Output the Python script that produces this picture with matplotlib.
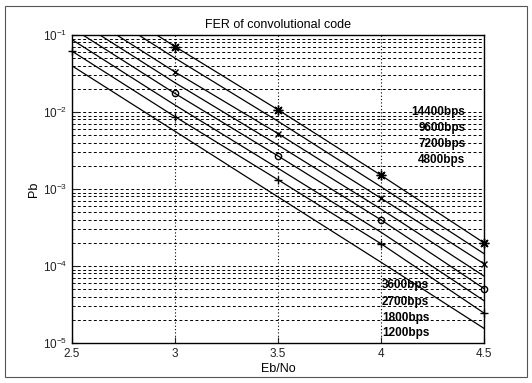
import matplotlib
matplotlib.use("Agg")
import matplotlib.pyplot as plt
from matplotlib.patches import Rectangle

plt.rcParams['font.family'] = ['Liberation Sans', 'DejaVu Sans']

# Eb/No values
ebno = [2.5, 3.0, 3.5, 4.0, 4.5]

# FER curves, one per data rate
fer_14400 = [0.501, 0.0708, 0.0107, 0.00151, 2.0e-4]
fer_9600 = [0.355, 0.0501, 0.00759, 0.00107, 1.45e-4]
fer_7200 = [0.234, 0.0331, 0.00525, 7.6e-4, 1.07e-4]
fer_4800 = [0.170, 0.0240, 0.00372, 5.5e-4, 7.4e-5]
fer_3600 = [0.123, 0.0174, 0.00269, 3.98e-4, 5.1e-5]
fer_2700 = [0.0871, 0.0123, 0.00186, 2.75e-4, 3.55e-5]
fer_1800 = [0.0617, 0.0087, 0.00132, 1.95e-4, 2.45e-5]
fer_1200 = [0.0398, 0.00562, 7.9e-4, 1.12e-4, 1.55e-5]

# rate labels as placed on the chart
top_labels = ["14400bps", "9600bps", "7200bps", "4800bps"]
top_label_y = [1.0e-2, 6.2e-3, 3.84e-3, 2.38e-3]
bottom_labels = ["3600bps", "2700bps", "1800bps", "1200bps"]
bottom_label_y = [5.66e-5, 3.4e-5, 2.11e-5, 1.35e-5]

fig = plt.figure(figsize=(5.32, 3.83), dpi=100)
ax = fig.add_axes([0.1353, 0.1044, 0.7744, 0.8042])
ymin, ymax = 1e-5, 1e-1

# (8, 2, 0) is an asterisk made of line strokes, like MATLAB's '*'
curves = [(fer_14400, (8, 2, 0), 7), (fer_9600, None, 0), (fer_7200, 'x', 5),
          (fer_4800, None, 0), (fer_3600, 'o', 4.5), (fer_2700, None, 0),
          (fer_1800, '+', 6), (fer_1200, None, 0)]
for fer, mk, ms in curves:
    ax.semilogy(ebno, fer, 'k-', lw=0.9)
    if mk:
        # markers are not clipped at the axes edge (MATLAB style)
        pts = [(x, y) for x, y in zip(ebno, fer) if ymin <= y <= ymax]
        ax.plot([p[0] for p in pts], [p[1] for p in pts], ls='none', marker=mk,
                color='k', ms=ms, mew=1.0, mfc='none', clip_on=False, zorder=5)

ax.set_xlim(2.5, 4.5)
ax.set_ylim(ymin, ymax)
ax.set_xticks([2.5, 3, 3.5, 4, 4.5])
ax.set_xticklabels(["2.5", "3", "3.5", "4", "4.5"])

ax.yaxis.grid(True, which='both', color='k', ls=(0, (3, 2.5)), lw=0.7)
ax.xaxis.grid(True, which='major', color='k', ls=(0, (1, 2)), lw=0.8)
ax.tick_params(which='both', direction='in', labelsize=8.5, colors='#222222')
ax.tick_params(which='major', length=4)
ax.tick_params(which='minor', length=2)
for s in ax.spines.values():
    s.set_linewidth(1.0)

for txt, yv in zip(top_labels, top_label_y):
    ax.text(4.41, yv, txt, ha='right', va='center', fontsize=8.5, fontweight='bold')
for txt, yv in zip(bottom_labels, bottom_label_y):
    ax.text(4.005, yv, txt, ha='left', va='center', fontsize=8.5, fontweight='bold')

ax.set_title("FER of convolutional code", fontsize=9, pad=5)
ax.set_xlabel("Eb/No", fontsize=9, labelpad=2)
ax.set_ylabel("Pb", fontsize=9, labelpad=2)

# scanned page frame
fig.patches.append(Rectangle((0.01, 0.015), 0.98, 0.97, transform=fig.transFigure,
                             fill=False, ec='#555555', lw=0.8))

plt.savefig("out.png", dpi=100)
plt.close()
